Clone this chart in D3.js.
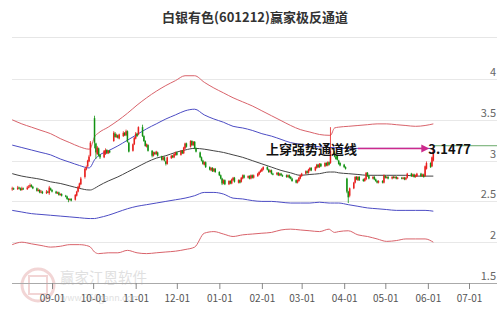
<!DOCTYPE html>
<html><head><meta charset="utf-8">
<script src="https://cdn.jsdelivr.net/npm/d3@7"></script>
<style>body{margin:0;background:#fff}svg{display:block;font-family:"Noto Sans CJK SC","Noto Sans",sans-serif}</style>
</head><body><svg id="c" width="499" height="309"></svg>
<script>
const title = "白银有色(601212)赢家极反通道";
const annoText = "上穿强势通道线";
const annoValue = 3.1477;
const yTicks = [1.5, 2, 2.5, 3, 3.5, 4];
const yTickLabels = ["1.5", "2", "2.5", "3", "3.5", "4"];
const xTickDates = ["2023-09-01","2023-10-01","2023-11-01","2023-12-01","2024-01-01","2024-02-01","2024-03-01","2024-04-01","2024-05-01","2024-06-01","2024-07-01"];
const xTickLabels = ["09-01","10-01","11-01","12-01","01-01","02-01","03-01","04-01","05-01","06-01","07-01"];

// daily candles (weekdays from 2023-08-03), grouped by month
const openP = [
 2.65,2.66,2.65,2.67,2.66,2.64,2.66,2.65,2.67,2.68,2.70,2.68,2.66,2.63,2.64,2.61,2.62,2.60,2.62,2.60,2.66,
 2.64,2.62,2.60,2.61,2.58,2.59,2.57,2.56,2.53,2.52,2.53,2.52,2.57,2.62,2.67,2.71,2.80,2.89,2.93,2.99,3.06,
 3.52,3.21,3.08,3.15,3.07,3.04,3.08,3.13,3.09,3.12,3.24,3.33,3.29,3.31,3.27,3.30,3.34,3.31,3.36,3.22,3.12,3.20,
 3.27,3.33,3.32,3.41,3.30,3.24,3.17,3.19,3.12,3.06,3.10,3.08,3.10,3.05,3.01,3.04,2.99,2.96,3.03,3.06,3.04,3.07,
 3.10,3.07,3.12,3.09,3.15,3.21,3.17,3.24,3.19,3.23,3.15,3.10,3.04,3.00,2.95,2.98,2.92,2.88,2.91,2.87,2.90,
 2.86,2.82,2.78,2.72,2.76,2.71,2.75,2.72,2.76,2.79,2.73,2.76,2.74,2.78,2.82,2.79,2.81,2.78,2.82,2.79,2.81,2.83,2.86,
 2.87,2.89,2.92,2.89,2.86,2.88,2.84,2.83,2.85,2.82,2.84,2.82,2.82,2.80,2.82,2.80,2.78,2.76,2.73,2.75,2.78,
 2.81,2.84,2.87,2.85,2.88,2.91,2.88,2.91,2.95,2.92,2.96,2.93,2.97,2.94,2.98,2.97,3.10,3.05,3.06,3.00,2.97,
 2.95,2.92,2.78,2.62,2.57,2.66,2.73,2.80,2.76,2.80,2.77,2.75,2.77,2.85,2.81,2.78,2.80,2.77,2.75,2.73,2.75,2.73,
 2.81,2.79,2.80,2.78,2.80,2.79,2.80,2.78,2.79,2.78,2.79,2.77,2.79,2.84,2.81,2.83,2.80,2.81,2.84,2.81,2.83,2.81,2.90,
 2.97,2.93,3.00];
const closeP = [
 2.66,2.65,2.67,2.66,2.64,2.66,2.65,2.67,2.68,2.70,2.68,2.66,2.63,2.64,2.61,2.62,2.60,2.62,2.61,2.67,2.64,
 2.62,2.60,2.61,2.58,2.59,2.57,2.56,2.53,2.52,2.53,2.51,2.58,2.62,2.68,2.72,2.78,2.90,2.92,3.00,3.05,3.22,
 3.22,3.10,3.16,3.06,3.04,3.12,3.13,3.09,3.12,3.10,3.34,3.29,3.31,3.28,3.32,3.34,3.31,3.36,3.23,3.11,3.20,3.28,
 3.33,3.30,3.41,3.30,3.24,3.18,3.20,3.12,3.06,3.10,3.08,3.11,3.06,3.01,3.04,3.00,2.96,3.04,3.06,3.04,3.08,3.10,
 3.07,3.12,3.09,3.16,3.21,3.17,3.24,3.19,3.23,3.15,3.11,3.04,3.00,2.96,2.98,2.92,2.89,2.91,2.87,2.90,2.86,
 2.82,2.78,2.72,2.76,2.71,2.75,2.72,2.77,2.79,2.74,2.76,2.73,2.79,2.82,2.79,2.81,2.78,2.82,2.79,2.82,2.84,2.86,2.88,
 2.90,2.92,2.89,2.86,2.88,2.84,2.83,2.85,2.82,2.84,2.82,2.81,2.80,2.82,2.79,2.78,2.75,2.73,2.76,2.79,2.82,
 2.84,2.87,2.85,2.89,2.91,2.88,2.92,2.95,2.92,2.96,2.93,2.97,2.94,2.98,2.95,3.12,3.05,3.02,3.01,2.96,2.94,
 2.92,2.90,2.62,2.55,2.66,2.73,2.80,2.77,2.80,2.76,2.75,2.78,2.85,2.81,2.78,2.80,2.77,2.75,2.73,2.75,2.73,2.82,
 2.79,2.80,2.78,2.80,2.79,2.80,2.78,2.79,2.78,2.79,2.77,2.79,2.84,2.81,2.83,2.80,2.82,2.84,2.81,2.83,2.80,2.93,2.97,
 2.92,3.04,3.15];
const highP = [
 2.68,2.67,2.69,2.68,2.67,2.68,2.67,2.69,2.70,2.72,2.71,2.69,2.67,2.66,2.65,2.64,2.63,2.64,2.63,2.69,2.67,
 2.65,2.63,2.62,2.62,2.60,2.60,2.58,2.57,2.54,2.54,2.54,2.59,2.63,2.69,2.73,2.80,2.91,2.94,3.01,3.07,3.24,
 3.55,3.22,3.18,3.16,3.08,3.13,3.15,3.14,3.13,3.13,3.36,3.35,3.33,3.32,3.33,3.36,3.35,3.38,3.37,3.23,3.21,3.29,
 3.35,3.34,3.42,3.44,3.31,3.25,3.21,3.20,3.13,3.11,3.11,3.12,3.11,3.06,3.05,3.05,3.00,3.05,3.07,3.07,3.09,3.11,
 3.11,3.13,3.13,3.17,3.22,3.22,3.25,3.25,3.24,3.24,3.16,3.11,3.05,3.01,2.99,2.99,2.93,2.92,2.92,2.91,2.91,
 2.87,2.83,2.79,2.77,2.77,2.76,2.76,2.78,2.80,2.80,2.77,2.77,2.80,2.83,2.83,2.82,2.82,2.83,2.83,2.83,2.85,2.87,2.89,
 2.91,2.93,2.93,2.90,2.89,2.89,2.85,2.86,2.86,2.85,2.85,2.83,2.83,2.83,2.83,2.81,2.79,2.77,2.77,2.80,2.83,
 2.85,2.88,2.88,2.90,2.92,2.92,2.93,2.96,2.96,2.97,2.97,2.98,2.98,2.99,2.99,3.41,3.12,3.06,3.07,3.01,2.98,
 2.96,2.93,2.79,2.63,2.67,2.74,2.81,2.81,2.81,2.81,2.78,2.79,2.86,2.86,2.82,2.81,2.81,2.78,2.76,2.76,2.76,2.83,
 2.82,2.81,2.81,2.81,2.81,2.81,2.81,2.80,2.80,2.80,2.80,2.80,2.85,2.85,2.84,2.84,2.83,2.85,2.85,2.84,2.84,2.94,2.99,
 2.98,3.05,3.17];
const lowP = [
 2.63,2.64,2.64,2.65,2.63,2.63,2.64,2.64,2.66,2.67,2.67,2.65,2.62,2.62,2.60,2.60,2.59,2.59,2.60,2.58,2.63,
 2.61,2.59,2.59,2.57,2.57,2.56,2.55,2.52,2.49,2.51,2.50,2.51,2.56,2.61,2.66,2.70,2.78,2.88,2.92,2.98,3.05,
 3.15,3.02,3.07,3.05,3.02,3.03,3.07,3.08,3.08,3.09,3.23,3.28,3.28,3.27,3.26,3.29,3.30,3.30,3.22,3.10,3.11,3.19,
 3.26,3.29,3.31,3.29,3.23,3.17,3.16,3.11,3.04,3.05,3.07,3.07,3.05,3.00,3.00,2.99,2.94,2.95,3.02,3.03,3.03,3.06,
 3.06,3.06,3.08,3.08,3.14,3.16,3.16,3.18,3.18,3.14,3.10,3.03,2.99,2.95,2.94,2.91,2.88,2.87,2.86,2.86,2.85,
 2.81,2.77,2.70,2.71,2.70,2.70,2.71,2.71,2.75,2.73,2.72,2.72,2.73,2.77,2.78,2.78,2.77,2.77,2.78,2.78,2.80,2.82,2.85,
 2.86,2.88,2.88,2.85,2.85,2.83,2.82,2.82,2.81,2.81,2.81,2.80,2.79,2.79,2.78,2.77,2.74,2.72,2.72,2.74,2.77,
 2.80,2.83,2.84,2.84,2.87,2.87,2.87,2.90,2.91,2.91,2.92,2.92,2.93,2.93,2.94,2.96,3.04,3.01,3.00,2.95,2.93,
 2.91,2.89,2.60,2.48,2.55,2.65,2.72,2.76,2.75,2.75,2.74,2.74,2.76,2.80,2.77,2.77,2.76,2.74,2.72,2.72,2.72,2.72,
 2.78,2.78,2.77,2.77,2.78,2.78,2.77,2.77,2.77,2.77,2.76,2.76,2.78,2.80,2.80,2.79,2.79,2.80,2.80,2.80,2.79,2.80,2.89,
 2.91,2.92,2.99];

// channel lines sampled at these candle indices
const bandIdx = [0,5,10,15,20,25,30,35,40,41,42,45,50,55,60,65,70,75,80,85,90,95,100,105,110,115,120,125,130,135,140,145,150,155,160,165,166,167,170,175,180,185,190,195,200,205,210,215,219];
const upperRed = [3.50,3.45,3.41,3.37,3.33,3.27,3.22,3.17,3.14,3.15,3.29,
 3.34,3.41,3.49,3.58,3.68,3.77,3.85,3.92,3.98,4.04,4.04,3.96,3.89,3.83,3.77,3.72,3.67,3.61,3.55,3.49,3.43,3.38,3.35,3.32,3.31,
 3.31,3.40,3.41,3.42,3.43,3.44,3.45,3.45,3.44,3.43,3.42,3.43,3.45];
const upperBlue = [3.19,3.16,3.13,3.10,3.07,3.02,2.98,2.94,2.91,2.92,3.01,
 3.06,3.12,3.18,3.25,3.32,3.39,3.45,3.51,3.56,3.61,3.63,3.56,3.51,3.47,3.42,3.40,3.37,3.33,3.30,3.26,3.22,3.20,3.18,3.17,3.16,
 3.16,3.16,3.15,3.15,3.15,3.15,3.15,3.15,3.15,3.15,3.15,3.15,3.1477];
const midLine = [2.84,2.81,2.79,2.77,2.74,2.72,2.69,2.66,2.64,2.64,2.66,
 2.69,2.75,2.80,2.86,2.92,2.98,3.03,3.06,3.10,3.13,3.15,3.14,3.12,3.10,3.07,3.04,3.00,2.96,2.92,2.88,2.85,2.82,2.83,2.84,2.86,
 2.86,2.86,2.85,2.84,2.83,2.82,2.82,2.82,2.82,2.82,2.81,2.81,2.81];
const lowerBlue = [2.39,2.37,2.35,2.34,2.33,2.32,2.31,2.30,2.29,2.29,2.29,
 2.30,2.33,2.37,2.41,2.44,2.46,2.48,2.50,2.52,2.54,2.57,2.61,2.61,2.59,2.54,2.53,2.51,2.50,2.50,2.49,2.48,2.48,2.48,2.49,2.48,
 2.48,2.48,2.48,2.46,2.44,2.42,2.41,2.40,2.39,2.39,2.39,2.39,2.38];
const lowerRed = [1.97,2.00,1.98,1.96,1.94,1.95,1.97,1.97,1.95,1.94,1.88,
 1.86,1.87,1.87,1.90,1.87,1.86,1.87,1.88,1.89,1.91,1.94,2.11,2.13,2.10,2.07,2.09,2.10,2.11,2.12,2.15,2.16,2.15,2.14,2.13,2.16,
 2.15,2.12,2.13,2.14,2.09,2.07,2.04,2.01,2.02,2.04,2.04,2.04,2.00];

// trading calendar: weekdays from the first candle
const dates = [];
{ let t = Date.UTC(2023, 7, 3);
  while (dates.length < closeP.length) {
    const d = new Date(t); const wd = d.getUTCDay();
    if (wd !== 0 && wd !== 6) dates.push(d);
    t += 86400000;
  } }
const candles = dates.map((d, i) => ({d, o: openP[i], c: closeP[i], h: highP[i], l: lowP[i]}));

const svg = d3.select("#c");
const W = 499, L = 12, R = 497;
const x = d3.scaleUtc().domain([new Date(Date.UTC(2023,8,1)), new Date(Date.UTC(2024,6,1))]).range([52, 469]);
const y = d3.scaleLinear().domain([1.5, 4]).range([283, 79]);

// title
svg.append("text").attr("x", 255).attr("y", 22).attr("text-anchor", "middle")
  .attr("font-size", 13).attr("font-weight", "bold").attr("fill", "#333").text(title);
svg.append("line").attr("x1", L).attr("x2", R).attr("y1", 37.5).attr("y2", 37.5).attr("stroke", "#e6e6e6");

// grid
svg.append("g").selectAll("line").data(yTicks.slice(1)).join("line")
  .attr("x1", L).attr("x2", R).attr("y1", d => Math.round(y(d)) + 0.5).attr("y2", d => Math.round(y(d)) + 0.5)
  .attr("stroke", "#e8e8e8");
svg.append("g").selectAll("text").data(yTicks).join("text")
  .attr("x", 496).attr("y", d => y(d) - 3).attr("text-anchor", "end")
  .attr("font-size", 11).attr("fill", "#666").text((d, i) => yTickLabels[i]);

// watermark
const wm = svg.append("g").attr("opacity", 0.55);
wm.append("circle").attr("cx", 38).attr("cy", 285).attr("r", 16).attr("fill", "none").attr("stroke", "#e8b4b4").attr("stroke-width", 3);
wm.append("rect").attr("x", 29).attr("y", 276).attr("width", 18).attr("height", 18).attr("fill", "none").attr("stroke", "#e8b4b4").attr("stroke-width", 2);
wm.append("text").attr("x", 60).attr("y", 283).attr("font-size", 14.5).attr("fill", "#c8c8c8").text("赢家江恩软件");
wm.append("text").attr("x", 60).attr("y", 301).attr("font-size", 9).attr("fill", "#c8c8c8").text("www.360gann.com");

// x axis
svg.append("line").attr("x1", L).attr("x2", R).attr("y1", 283.5).attr("y2", 283.5).attr("stroke", "#aaa");
const xAxis = d3.axisBottom(x)
  .tickValues(xTickDates.map(s => new Date(s + "T00:00:00Z")))
  .tickFormat((d, i) => xTickLabels[i]).tickSize(6).tickPadding(6);
const gx = svg.append("g").attr("transform", "translate(0,283)").call(xAxis);
gx.select(".domain").remove();
gx.selectAll(".tick line").attr("stroke", "#888");
gx.selectAll(".tick text").attr("font-size", 10).attr("fill", "#555")
  .attr("font-family", '"Noto Sans CJK SC","Noto Sans",sans-serif');

// channel lines
const pts = vals => bandIdx.map((k, i) => [x(dates[k]), y(vals[i])]);
const lineGen = d3.line().curve(d3.curveMonotoneX);
const bands = [
  [upperRed, "#d9636b"], [lowerRed, "#d9636b"],
  [upperBlue, "#4c4cc4"], [lowerBlue, "#4c4cc4"],
  [midLine, "#444"]
];
svg.append("g").selectAll("path").data(bands).join("path")
  .attr("d", d => lineGen(pts(d[0]))).attr("fill", "none")
  .attr("stroke", d => d[1]).attr("stroke-width", 1);

// candles
const cw = 1.5;
const cg = svg.append("g").selectAll("g").data(candles).join("g");
cg.append("line")
  .attr("x1", d => x(d.d)).attr("x2", d => x(d.d))
  .attr("y1", d => y(d.h)).attr("y2", d => y(d.l))
  .attr("stroke", d => d.c >= d.o ? "#e8201e" : "#119211").attr("stroke-width", 0.8);
cg.append("rect")
  .attr("x", d => x(d.d) - cw / 2).attr("width", cw)
  .attr("y", d => y(Math.max(d.o, d.c)))
  .attr("height", d => Math.max(1, Math.abs(y(d.o) - y(d.c))))
  .attr("fill", d => d.c >= d.o ? "#e8201e" : "#119211");

// last-price marker line
const last = candles[candles.length - 1];
svg.append("line").attr("x1", x(last.d)).attr("x2", R)
  .attr("y1", y(last.h) - 1).attr("y2", y(last.h) - 1).attr("stroke", "#6aaa6a").attr("stroke-width", 1);

// annotation
const ay = y(annoValue);
svg.append("line").attr("x1", 358).attr("x2", x(last.d) - 8).attr("y1", ay).attr("y2", ay)
  .attr("stroke", "#cc2a8c").attr("stroke-width", 1.5);
const ax = x(last.d) - 4;
svg.append("path").attr("d", `M${ax},${ay} L${ax - 8},${ay - 4} L${ax - 8},${ay + 4} Z`).attr("fill", "#cc2a8c");
svg.append("text").attr("x", 357).attr("y", ay + 5).attr("text-anchor", "end")
  .attr("font-size", 13).attr("font-weight", "bold").attr("fill", "#111").text(annoText);
svg.append("text").attr("x", ax - 1).attr("y", ay + 5)
  .attr("font-size", 13).attr("font-weight", "bold").attr("fill", "#111").text(String(annoValue));
</script>
</body></html>
